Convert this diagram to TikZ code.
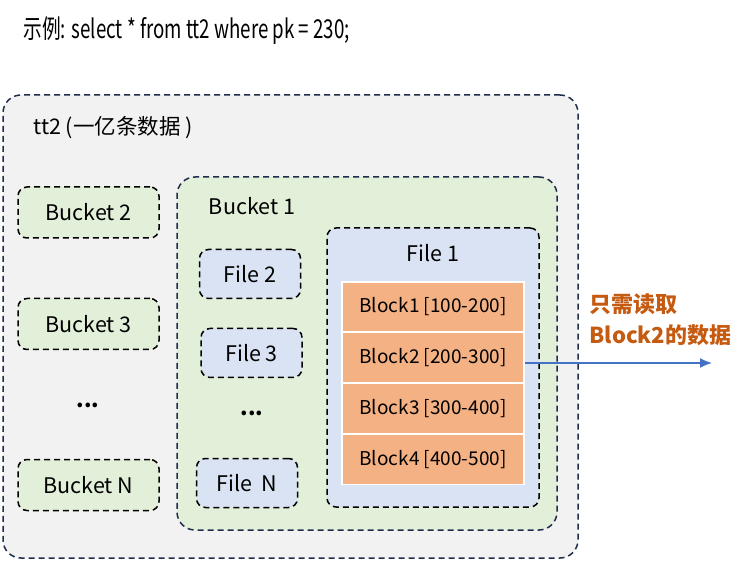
\documentclass[tikz,border=0pt]{standalone}
\usepackage{fontspec}
\setmainfont{Noto Sans CJK SC}
\usetikzlibrary{arrows.meta,positioning}
\definecolor{tblgray}{HTML}{F2F2F2}
\definecolor{navyline}{HTML}{1F2D4D}
\definecolor{bktgreen}{HTML}{E2EFD9}
\definecolor{fileblue}{HTML}{DAE3F3}
\definecolor{blkorange}{HTML}{F4B183}
\definecolor{readblue}{HTML}{4472C4}
\definecolor{noteorange}{HTML}{C55A11}

\begin{document}
\begin{tikzpicture}[
  x=1pt,y=-1pt,
  dsh/.style={line width=1.5pt,dash pattern=on 6pt off 4pt},
  outer/.style={dsh,draw=navyline,fill=tblgray,rounded corners=18pt},
  bkt/.style={dsh,draw=black,fill=bktgreen,rounded corners=9pt,
    minimum width=141pt,minimum height=51pt,font=\fontsize{21.5}{25}\selectfont},
  fl/.style={dsh,draw=black,fill=fileblue,rounded corners=9pt,
    minimum width=101pt,minimum height=49pt,font=\fontsize{21.5}{25}\selectfont},
  blk/.style={draw=white,line width=1.2pt,fill=blkorange,
    minimum width=182pt,minimum height=50pt,font=\fontsize{19}{23}\selectfont},
  lab/.style={font=\fontsize{21.5}{25}\selectfont},
  read/.style={draw=readblue,line width=1.5pt,-{Latex[length=12pt,width=10pt]}}
]
  \useasboundingbox (0,0) rectangle (748,564);
  \node[anchor=west,font=\fontsize{26}{30}\selectfont] (title) at (20,31)
    {\scalebox{0.72}[1]{示例: select * from tt2 where pk = 230;}};
  % table
  \node[outer,minimum width=575pt,minimum height=463pt] (tbl) at (290.5,326.5) {};
  \node[lab,anchor=west] (tbllab) at (30,128) {tt2 (一亿条数据 )};
  \node[bkt] (b2) at (88.5,212.5) {Bucket 2};
  \node[bkt] (b3) at (88.5,324) {Bucket 3};
  \node[lab,font=\fontsize{21.5}{25}\selectfont\bfseries] (bdots) at (88,405) {...};
  \node[bkt] (bn) at (88.5,485) {Bucket N};
  % bucket 1
  \node[outer,fill=bktgreen,minimum width=380pt,minimum height=353pt] (b1) at (367,353.5) {};
  \node[lab] (b1lab) at (252,206) {Bucket 1};
  \node[fl] (f2) at (250,274) {File 2};
  \node[fl] (f3) at (251.5,353) {File 3};
  \node[lab,font=\fontsize{21.5}{25}\selectfont\bfseries] (fdots) at (252,413) {...};
  \node[fl] (fn) at (247,483) {File\ \ N};
  % file 1
  \node[fl,minimum width=212pt,minimum height=279pt] (f1) at (433,367.5) {};
  \node[lab] (f1lab) at (433,253) {File 1};
  \node[blk] (blk1) at (433,307) {Block1 [100-200]};
  \node[blk] (blk2) at (433,357.5) {Block2 [200-300]};
  \node[blk] (blk3) at (433,408.5) {Block3 [300-400]};
  \node[blk] (blk4) at (433,459.5) {Block4 [400-500]};
  \coordinate (rdend) at (712,363);
  \draw[read] (blk2.east |- rdend) -- (rdend);
  \node[anchor=north west,align=left,text=noteorange,
    font=\fontsize{22}{31}\selectfont\bfseries] (note) at (586,290)
    {只需读取\\Block2的数据};
\end{tikzpicture}
\end{document}
